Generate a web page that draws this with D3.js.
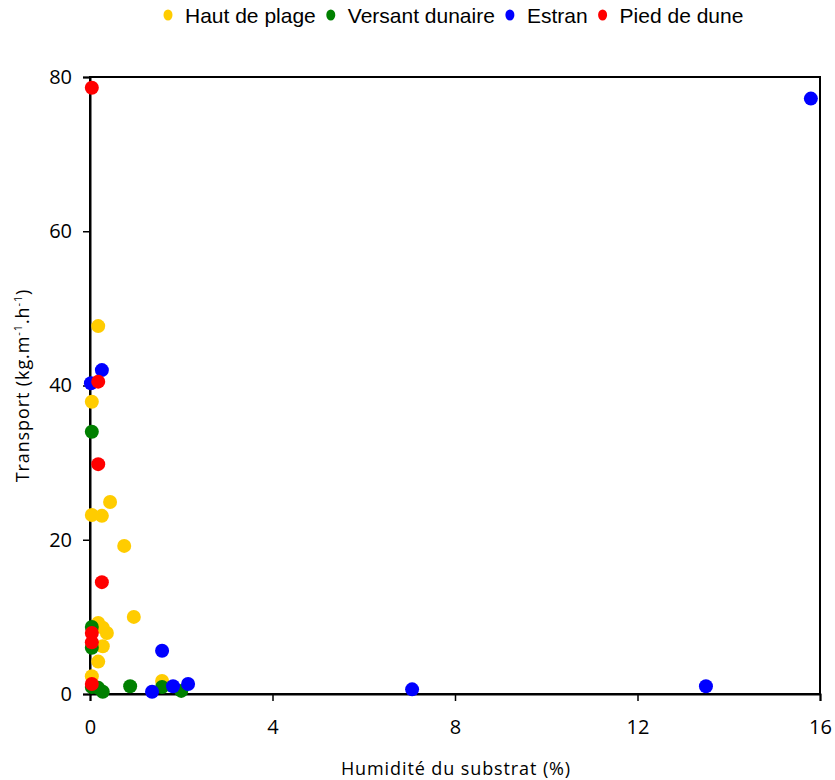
<!DOCTYPE html>
<html><head><meta charset="utf-8">
<script src="https://cdn.jsdelivr.net/npm/d3@7"></script>
<style>body{margin:0;background:#fff}</style>
</head><body>
<script>
const seriesNames = ["Haut de plage", "Versant dunaire", "Estran", "Pied de dune"];
const seriesColors = ["#FFCC00", "#008000", "#0000FF", "#FF0000"];
const hautX = [0.18, 0.04, 0.44, 0.04, 0.26, 0.75, 0.96, 0.18, 0.28, 0.37, 0.28, 0.18, 0.04, 1.58];
const hautY = [47.7, 37.9, 24.9, 23.2, 23.1, 19.2, 10.0, 9.2, 8.6, 7.9, 6.2, 4.2, 2.3, 1.7];
const versantX = [0.04, 0.04, 0.04, 0.04, 0.18, 0.28, 0.88, 1.58, 2.0];
const versantY = [34.0, 8.7, 6.0, 0.9, 0.8, 0.3, 1.0, 0.9, 0.4];
const estranX = [0.02, 0.26, 1.58, 1.36, 1.82, 2.15, 7.06, 13.5, 15.8];
const estranY = [40.3, 42.0, 5.6, 0.3, 1.0, 1.3, 0.6, 1.0, 77.2];
const piedX = [0.04, 0.18, 0.18, 0.26, 0.04, 0.04, 0.04];
const piedY = [78.6, 40.5, 29.8, 14.5, 7.9, 6.7, 1.3];
const xTicks = [0, 4, 8, 12, 16];
const yTicks = [0, 20, 40, 60, 80];

const series = [[hautX, hautY], [versantX, versantY], [estranX, estranY], [piedX, piedY]];

const W = 835, H = 780;
const m = {left: 90, right: 15, top: 77, bottom: 86};
const svg = d3.select("body").append("svg").attr("width", W).attr("height", H);

const x = d3.scaleLinear().domain([0, 16]).range([m.left, W - m.right]);
const y = d3.scaleLinear().domain([0, 80]).range([H - m.bottom, m.top]);

const axFont = "'Open Sans', sans-serif";

// frame
svg.append("rect").attr("x", x(0)).attr("y", y(80)).attr("width", x(16) - x(0)).attr("height", y(0) - y(80))
  .attr("fill", "none").attr("stroke", "#000").attr("stroke-width", 2);

const xa = svg.append("g").attr("transform", `translate(0,${y(0)})`)
  .call(d3.axisBottom(x).tickValues(xTicks).tickSize(7).tickPadding(19));
const ya = svg.append("g").attr("transform", `translate(${x(0)},0)`)
  .call(d3.axisLeft(y).tickValues(yTicks).tickSize(7).tickPadding(11));
[xa, ya].forEach(a => {
  a.select(".domain").attr("stroke", "#000").attr("stroke-width", 2);
  a.selectAll(".tick line").attr("stroke", "#000").attr("stroke-width", 1.5);
  a.selectAll("text").attr("font-family", axFont).attr("font-size", 20).attr("fill", "#000");
});

// points
series.forEach((s, i) => {
  svg.append("g").selectAll("circle").data(s[0].map((v, j) => [v, s[1][j]])).join("circle")
    .attr("cx", d => x(d[0])).attr("cy", d => y(d[1])).attr("r", 7)
    .attr("fill", seriesColors[i]);
});

// axis titles
svg.append("text").attr("x", 456).attr("y", 775).attr("text-anchor", "middle")
  .attr("font-family", axFont).attr("font-size", 18).attr("letter-spacing", 0.9).text("Humidité du substrat (%)");
const yt = svg.append("text").attr("transform", `translate(29,${(y(0) + y(80)) / 2}) rotate(-90)`)
  .attr("text-anchor", "middle").attr("font-family", axFont).attr("font-size", 18).attr("letter-spacing", 0.9);
yt.append("tspan").text("Transport (kg.m");
yt.append("tspan").attr("dy", -7).attr("font-size", 11).text("-1");
yt.append("tspan").attr("dy", 7).text(".h");
yt.append("tspan").attr("dy", -7).attr("font-size", 11).text("-1");
yt.append("tspan").attr("dy", 7).text(")");

// legend
const lg = svg.append("g").attr("font-family", "'Liberation Sans', Arial, sans-serif").attr("font-size", 21);
let lx = 163;
seriesNames.forEach((n, i) => {
  lg.append("ellipse").attr("cx", lx + 5).attr("cy", 15).attr("rx", 4.5).attr("ry", 5.5).attr("fill", seriesColors[i]);
  const t = lg.append("text").attr("x", lx + 22).attr("y", 23).text(n);
  lx += 22 + t.node().getComputedTextLength() + 10;
});
</script>
</body></html>
